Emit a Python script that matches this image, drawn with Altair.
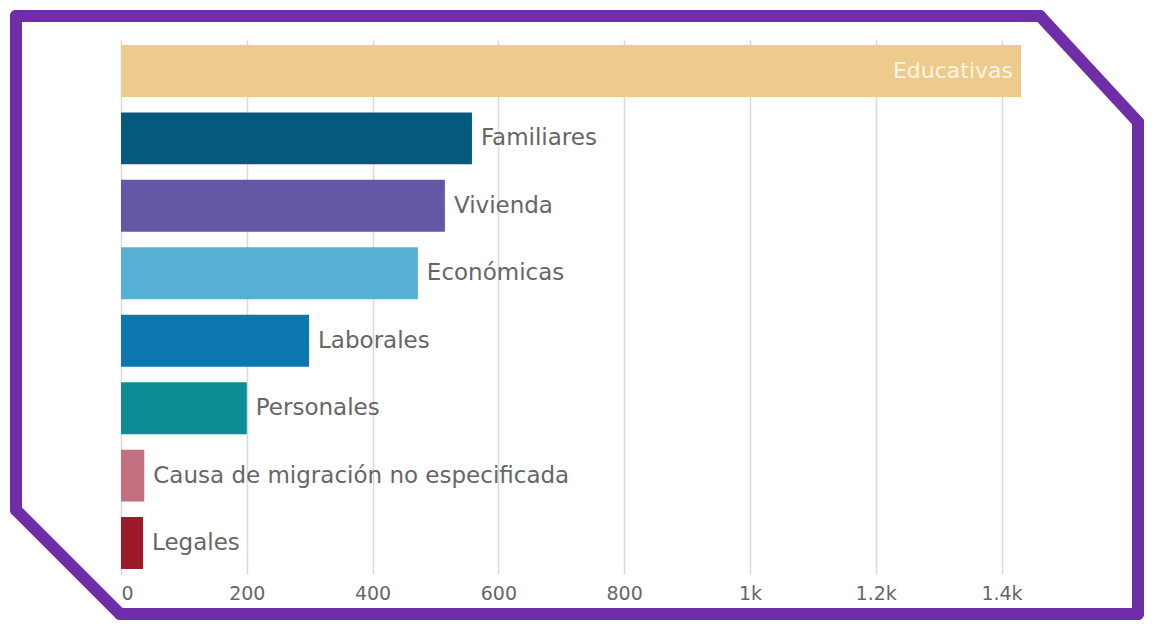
import altair as alt
import pandas as pd

categories = ["Educativas", "Familiares", "Vivienda", "Económicas", "Laborales",
              "Personales", "Causa de migración no especificada", "Legales"]
values = [1431, 558, 515, 472, 299, 200, 37, 35]
colors = ["#ECCB8C", "#045A7C", "#6457A6", "#57B0D3", "#0A77B1",
          "#0E8C93", "#C2707F", "#9B1C28"]
tick_values = [0, 200, 400, 600, 800, 1000, 1200, 1400]

df = pd.DataFrame({"cat": categories, "value": values})

W, H = 900, 534
FONT = "DejaVu Sans"

x = alt.X("value:Q", scale=alt.Scale(domain=[0, 1431], nice=False),
          axis=alt.Axis(values=tick_values, title=None,
                        labelExpr="datum.value >= 1000 ? format(datum.value/1000, '') + 'k' : datum.value"))
y = alt.Y("cat:N", sort=categories, axis=None,
          scale=alt.Scale(paddingInner=0.23, paddingOuter=0.074))

base = alt.Chart(df)

bars = base.mark_bar().encode(
    x=x, y=y,
    color=alt.Color("cat:N", scale=alt.Scale(domain=categories, range=colors), legend=None),
)

labels_out = base.transform_filter("datum.value < 1000").mark_text(
    align="left", baseline="middle", dx=9, fontSize=23, font=FONT, color="#666666"
).encode(x="value:Q", y=alt.Y("cat:N", sort=categories), text="cat:N")

labels_in = base.transform_filter("datum.value >= 1000").mark_text(
    align="right", baseline="middle", dx=-8, fontSize=22, font=FONT, color="#FBF3E6"
).encode(x="value:Q", y=alt.Y("cat:N", sort=categories), text="cat:N")

# decorative frame (pixel positions relative to plot origin)
one = pd.DataFrame({"k": [0]})
frame_color = "#6F2DA8"
segments = [
    (-105, -24, 919, -24),
    (919, -24, 1017, 82),
    (1017, 82, 1017, 574),
    (1017, 574, -1, 574),
    (-1, 574, -105, 470),
    (-105, 470, -105, -24),
]
frame_layers = [
    alt.Chart(one).mark_rule(color=frame_color, strokeWidth=12, strokeCap="round").encode(
        x=alt.value(a), y=alt.value(b), x2=alt.value(c), y2=alt.value(d))
    for a, b, c, d in segments
]

chart = alt.layer(bars, labels_out, labels_in, *frame_layers).properties(
    width=W, height=H,
    autosize=alt.AutoSizeParams(type="none"),
    padding={"left": 113, "top": 32, "right": 123, "bottom": 46},
    background="white",
).configure_view(stroke=None).configure_axis(
    grid=True, gridColor="#D9D9D9", gridWidth=1.5, domain=False, ticks=False,
    labelFontSize=19, labelColor="#666666", labelFont=FONT, labelPadding=10,
)

chart.save("out.html", embed_options={"renderer": "svg", "actions": False})
